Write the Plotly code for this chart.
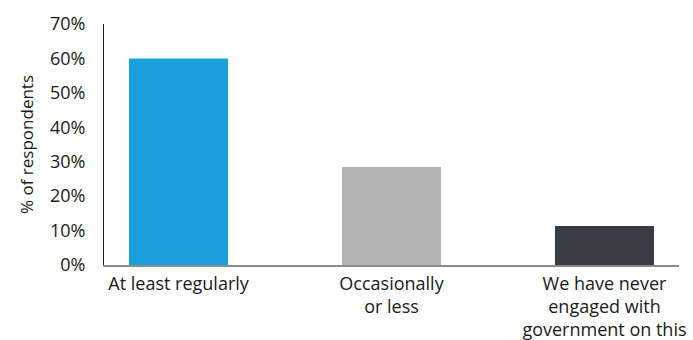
import plotly.graph_objects as go

categories = ["At least regularly", "Occasionally<br>or less",
              "We have never<br>engaged with<br>government on this"]
values = [60, 28.5, 11.3]
colors = ["#1aa0db", "#b3b3b3", "#393c44"]
y_ticks = [0, 10, 20, 30, 40, 50, 60, 70]
y_tick_labels = [f"{v}%" for v in y_ticks]

font_family = "Open Sans"
text_color = "#1a1a1a"

fig = go.Figure(
    go.Bar(
        x=categories,
        y=values,
        marker=dict(color=colors, line=dict(width=0)),
        width=0.465,
        hoverinfo="skip",
    )
)

fig.update_layout(
    width=693,
    height=340,
    margin=dict(l=104, r=14, t=24, b=75),
    paper_bgcolor="white",
    plot_bgcolor="white",
    showlegend=False,
    font=dict(family=font_family, size=18, color=text_color),
)

fig.update_xaxes(
    range=[-0.35, 2.35],
    showline=True,
    linecolor="#8c8c8c",
    linewidth=2,
    showgrid=False,
    ticks="",
    ticklabelstandoff=1,
    tickfont=dict(size=18, color=text_color),
    automargin=False,
    fixedrange=True,
)

fig.update_yaxes(
    range=[0, 70],
    tickvals=y_ticks,
    ticktext=y_tick_labels,
    showline=True,
    linecolor=text_color,
    linewidth=1,
    showgrid=False,
    zeroline=False,
    ticks="",
    ticklabelstandoff=14,
    tickfont=dict(size=18, color=text_color),
    title=dict(text="% of respondents", font=dict(size=17, color=text_color), standoff=11),
    automargin=False,
    fixedrange=True,
)

fig.write_html("out.html", config={"displayModeBar": False})
